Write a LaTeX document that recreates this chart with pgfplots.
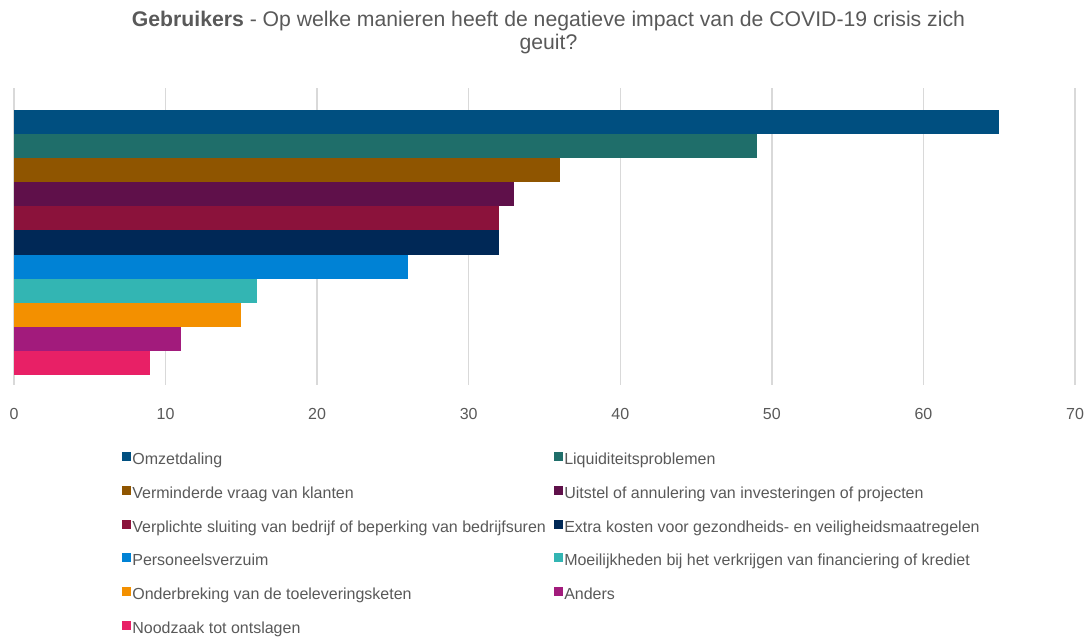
\documentclass[border=0pt]{standalone}
\usepackage{pgfplots}
\pgfplotsset{compat=1.18}
\usepackage{fontspec}
\setmainfont{Liberation Sans}
\definecolor{txt}{HTML}{595959}
\definecolor{gridc}{HTML}{D9D9D9}
\definecolor{c1}{HTML}{004F80}
\definecolor{c2}{HTML}{1F6E6A}
\definecolor{c3}{HTML}{8F5500}
\definecolor{c4}{HTML}{5F104A}
\definecolor{c5}{HTML}{8B123B}
\definecolor{c6}{HTML}{002856}
\definecolor{c7}{HTML}{0082D5}
\definecolor{c8}{HTML}{33B5B3}
\definecolor{c9}{HTML}{F39000}
\definecolor{c10}{HTML}{A21B7C}
\definecolor{c11}{HTML}{E82066}
\begin{document}
\begin{tikzpicture}
\begin{axis}[
  scale only axis,
  width=795.75pt, height=222.75pt,
  xmin=0, xmax=70, ymin=0.085, ymax=12.41,
  xtick={0,10,...,70}, ytick=\empty,
  xmajorgrids, major grid style={draw=gridc, line width=1.1pt},
  axis line style={draw=none}, major tick length=0pt,
  /pgf/number format/assume math mode=true,
  tick label style={font=\fontsize{12}{14}\selectfont, text=txt},
  xticklabel style={yshift=-14pt},
  xbar, bar width=1, bar shift=0pt,
  every axis plot/.append style={draw=none},
  title={\textbf{Gebruikers} - Op welke manieren heeft de negatieve impact van de COVID-19 crisis zich\\geuit?},
  title style={font=\fontsize{15.9}{17.25}\selectfont, text=txt, align=center, at={(0.5,1)}, anchor=south, yshift=16pt, xshift=3pt},
  legend columns=2,
  legend cell align=left,
  legend image code/.code={\fill[#1] (0pt,-0.6pt) rectangle (6.75pt,6.15pt);},
  legend style={at={(0.1018,0)}, anchor=north west, yshift=-50pt, draw=none, fill=none, inner sep=0pt, outer sep=0pt,
    font=\fontsize{12}{14}\selectfont, text=txt, row sep=12.3pt, column sep=0pt,
    nodes={inner sep=1pt, text height=8.7pt, text depth=2.3pt},
    /tikz/every even column/.append style={column sep=5pt}},
]
\coordinate (bl) at (rel axis cs:0,0);
\coordinate (tr) at (rel axis cs:1,1);
\addplot[fill=c1] coordinates {(65,11)};
\addplot[fill=c2] coordinates {(49,10)};
\addplot[fill=c3] coordinates {(36,9)};
\addplot[fill=c4] coordinates {(33,8)};
\addplot[fill=c5] coordinates {(32,7)};
\addplot[fill=c6] coordinates {(32,6)};
\addplot[fill=c7] coordinates {(26,5)};
\addplot[fill=c8] coordinates {(16,4)};
\addplot[fill=c9] coordinates {(15,3)};
\addplot[fill=c10] coordinates {(11,2)};
\addplot[fill=c11] coordinates {(9,1)};
\legend{Omzetdaling, Liquiditeitsproblemen, Verminderde vraag van klanten, Uitstel of annulering van investeringen of projecten, Verplichte sluiting van bedrijf of beperking van bedrijfsuren, Extra kosten voor gezondheids- en veiligheidsmaatregelen, Personeelsverzuim, Moeilijkheden bij het verkrijgen van financiering of krediet, Onderbreking van de toeleveringsketen, Anders, Noodzaak tot ontslagen}
\end{axis}
\pgfresetboundingbox
\path ([shift={(-10.5pt,-189pt)}]bl) rectangle ([shift={(9.75pt,66pt)}]tr);
\end{tikzpicture}
\end{document}
